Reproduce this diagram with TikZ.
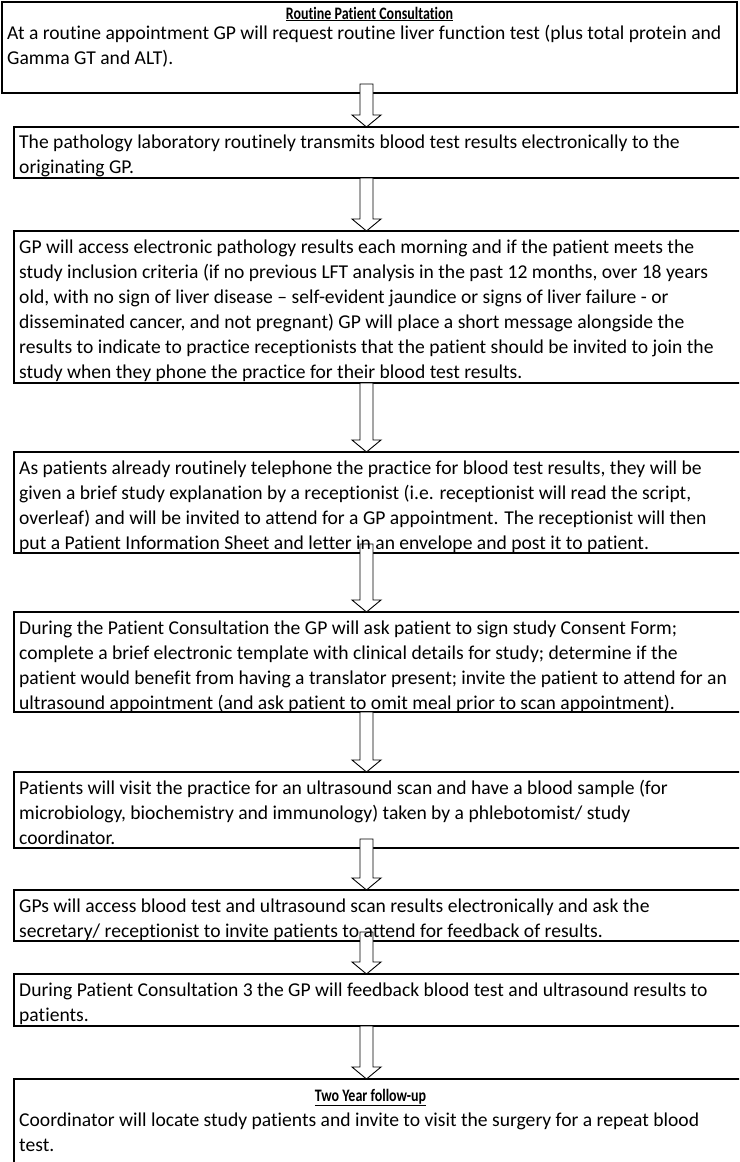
\documentclass[tikz,border=0pt]{standalone}
\usepackage{fontspec}
\usepackage{graphicx}
\setmainfont{Carlito}[Ligatures=CommonOff]
\usetikzlibrary{calc}

\newcommand{\bodyfont}{\fontsize{19.6}{25}\selectfont}
\newcommand{\headfont}{\fontsize{17.5}{20}\selectfont\bfseries}
% narrow underlined heading
\newcommand{\stephead}[1]{\scalebox{0.8}[1]{\underline{#1}}}

\tikzset{
  stepframe/.style={draw=black, line width=1.3pt, inner sep=0pt, outer sep=0pt, anchor=north west},
  steptext/.style={anchor=north west, inner sep=0pt, align=flush left, text width=760pt,
    font=\bodyfont, execute at begin node={\rule{0pt}{16pt}}},
  steptitle/.style={anchor=base, inner sep=0pt, font=\headfont},
  blockarrow/.style={draw=black, fill=white, line width=0.9pt, line join=miter}
}

% hollow block arrow from the bottom of one box to the top of the next
\newcommand{\stepconnector}[3]{%
  \draw[blockarrow]
    ($(#1.south -| ax)+(-6.5,-#3)$) -- ($(#2.north -| ax)+(-6.5,-12)$)
    -- ($(#2.north -| ax)+(-14.5,-12)$) -- (#2.north -| ax)
    -- ($(#2.north -| ax)+(14.5,-12)$) -- ($(#2.north -| ax)+(6.5,-12)$)
    -- ($(#1.south -| ax)+(6.5,-#3)$) -- cycle;}

\begin{document}
\begin{tikzpicture}[x=1pt,y=-1pt]
\useasboundingbox (0,0) rectangle (739,1162);
\fill[white] (0,0) rectangle (739,1162);
\clip (0,0) rectangle (739,1162);

\coordinate (ax) at (366.5,0);

% box frames
\node[stepframe, minimum width=735pt, minimum height=91pt]  (b1) at (2,2) {};
\node[stepframe, minimum width=760pt, minimum height=51pt]  (b2) at (14,127) {};
\node[stepframe, minimum width=760pt, minimum height=152pt] (b3) at (14,231) {};
\node[stepframe, minimum width=760pt, minimum height=101pt] (b4) at (14,452) {};
\node[stepframe, minimum width=760pt, minimum height=100pt] (b5) at (14,612) {};
\node[stepframe, minimum width=760pt, minimum height=76pt]  (b6) at (14,772) {};
\node[stepframe, minimum width=760pt, minimum height=51pt]  (b7) at (14,890) {};
\node[stepframe, minimum width=760pt, minimum height=52pt]  (b8) at (14,974) {};
\node[stepframe, minimum width=760pt, minimum height=120pt] (b9) at (14,1079) {};

% connectors
\stepconnector{b1}{b2}{9}
\stepconnector{b2}{b3}{0}
\stepconnector{b3}{b4}{0}
\stepconnector{b4}{b5}{9}
\stepconnector{b5}{b6}{0}
\stepconnector{b6}{b7}{9}
\stepconnector{b7}{b8}{9}
\stepconnector{b8}{b9}{0}

% titles
\node[steptitle] (t1) at ($(b1.north west -| ax)+(3,17)$) {\stephead{Routine Patient Consultation}};
\node[steptitle] (t9) at ($(b9.north west -| ax)+(4,22)$) {\stephead{Two Year follow-up}};

% box texts
\node[steptext] (x1) at ($(b1.north west)+(5,21)$) {At a routine appointment GP will request routine liver function test (plus total protein and\\
Gamma GT and ALT).};
\node[steptext] (x2) at ($(b2.north west)+(5,5)$) {The pathology laboratory routinely transmits blood test results electronically to the\\
originating GP.};
\node[steptext] (x3) at ($(b3.north west)+(5,6)$) {GP will access electronic pathology results each morning and if the patient meets the\\
study inclusion criteria (if no previous LFT analysis in the past 12 months, over 18 years\\
old, with no sign of liver disease -- self-evident jaundice or signs of liver failure - or\\
disseminated cancer, and not pregnant) GP will place a short message alongside the\\
results to indicate to practice receptionists that the patient should be invited to join the\\
study when they phone the practice for their blood test results.};
\node[steptext] (x4) at ($(b4.north west)+(5,6)$) {As patients already routinely telephone the practice for blood test results, they will be\\
given a brief study explanation by a receptionist (i.e. receptionist will read the script,\\
overleaf) and will be invited to attend for a GP appointment. The receptionist will then\\
put a Patient Information Sheet and letter in an envelope and post it to patient.};
\node[steptext] (x5) at ($(b5.north west)+(5,6)$) {During the Patient Consultation the GP will ask patient to sign study Consent Form;\\
complete a brief electronic template with clinical details for study; determine if the\\
patient would benefit from having a translator present; invite the patient to attend for an\\
ultrasound appointment (and ask patient to omit meal prior to scan appointment).};
\node[steptext] (x6) at ($(b6.north west)+(5,6)$) {Patients will visit the practice for an ultrasound scan and have a blood sample (for\\
microbiology, biochemistry and immunology) taken by a phlebotomist/ study\\
coordinator.};
\node[steptext] (x7) at ($(b7.north west)+(5,6)$) {GPs will access blood test and ultrasound scan results electronically and ask the\\
secretary/ receptionist to invite patients to attend for feedback of results.};
\node[steptext] (x8) at ($(b8.north west)+(5,6)$) {During Patient Consultation 3 the GP will feedback blood test and ultrasound results to\\
patients.};
\node[steptext] (x9) at ($(b9.north west)+(5,31)$) {Coordinator will locate study patients and invite to visit the surgery for a repeat blood\\
test.};
\end{tikzpicture}
\end{document}
